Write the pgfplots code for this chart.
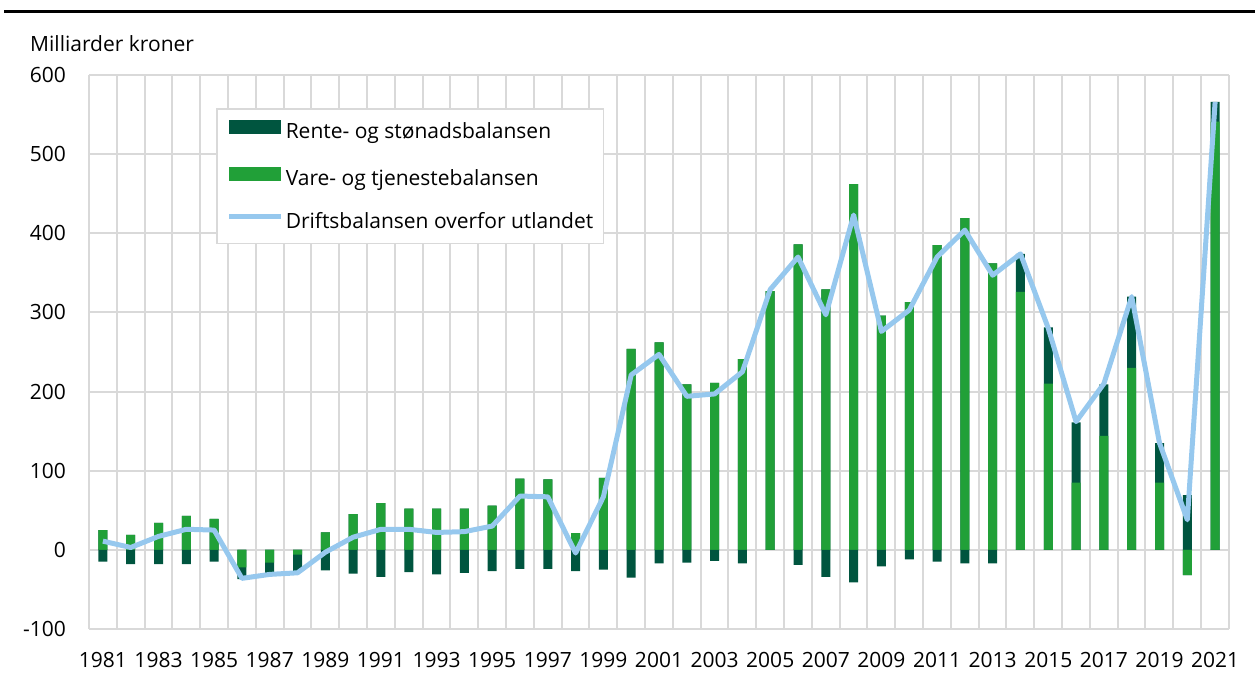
\documentclass[border=0pt]{standalone}
\usepackage{fontspec}
\setmainfont{Open Sans}
\usepackage{pgfplots}
\usepackage{pgfplotstable}
\pgfplotsset{compat=1.18}

\definecolor{rente}{HTML}{00553F}
\definecolor{vare}{HTML}{21A038}
\definecolor{drift}{HTML}{96C8EE}
\definecolor{gridg}{HTML}{D9D9D9}

% g = vare- og tjenestebalansen, d = rente- og stønadsbalansen, total = driftsbalansen
\pgfplotstableread{
year g d total
1981 25 -15 11
1982 19 -18 3
1983 34 -18 17
1984 43 -18 26
1985 39 -15 25
1986 -22 -15 -36
1987 -16 -13 -31
1988 -6 -22 -29
1989 22 -26 -3
1990 45 -30 16
1991 59 -34 26
1992 52 -28 26
1993 52 -31 22
1994 52 -29 23
1995 56 -27 30
1996 90 -24 68
1997 89 -24 67
1998 21 -27 -4
1999 91 -25 67
2000 254 -35 221
2001 262 -17 247
2002 209 -16 194
2003 211 -14 197
2004 241 -17 225
2005 327 0 329
2006 386 -19 370
2007 329 -34 297
2008 462 -41 423
2009 296 -21 276
2010 313 -12 303
2011 385 -15 370
2012 419 -17 404
2013 362 -17 347
2014 326 48 374
2015 210 71 280
2016 85 76 162
2017 144 65 210
2018 230 90 320
2019 85 50 135
2020 -32 69 38
2021 541 25 566
}\balanse

\begin{document}
\begin{tikzpicture}
\useasboundingbox (0pt,0pt) rectangle (1255pt,677pt);
\draw[line width=3.3pt] (4pt,665.3pt) -- (1255pt,665.3pt);
\node[anchor=base west, inner sep=0pt, font=\fontsize{21}{25}\selectfont] at (30pt,625pt) {Milliarder kroner};
\begin{axis}[
  at={(89pt,48pt)}, anchor=south west,
  scale only axis, width=1140pt, height=554pt,
  xmin=1980.5, xmax=2021.5, ymin=-100, ymax=600,
  xtick={1981,1983,...,2021},
  xticklabels={1981,1983,1985,1987,1989,1991,1993,1995,1997,1999,2001,2003,2005,2007,2009,2011,2013,2015,2017,2019,2021},
  minor xtick={1980.5,1981.5,...,2021.5},
  ytick={-100,0,...,600},
  yticklabels={-100,0,100,200,300,400,500,600},
  ymajorgrids, xminorgrids,
  grid style={gridg, line width=2pt},
  minor grid style={gridg, line width=2pt},
  axis line style={draw=none},
  major tick length=0pt, minor tick length=0pt,
  tick label style={font=\fontsize{21}{25}\selectfont, inner sep=0pt},
  xticklabel style={anchor=base, yshift=-38pt},
  yticklabel style={anchor=base east, xshift=-23pt, yshift=-7.5pt},
  legend cell align=left,
  legend style={at={(axis description cs:0.1114,0.9404)}, anchor=north west,
    draw=gridg, line width=1.5pt, fill=white,
    font=\fontsize{21}{25}\selectfont,
    inner xsep=10pt, inner ysep=11pt, row sep=24pt, column sep=2pt,
    nodes={inner sep=0pt, text height=14pt, text depth=4pt}},
  legend image code/.code={\fill[#1] (0pt,0pt) rectangle (52pt,14pt);},
]
\addplot[ybar, bar shift=0pt, bar width=9pt, fill=rente, draw=none]
  table[x=year, y expr={max(\thisrow{g},0)+max(\thisrow{d},0)}] {\balanse};
\addlegendentry{Rente- og stønadsbalansen}
\addplot[ybar, bar shift=0pt, bar width=9pt, fill=vare, draw=none]
  table[x=year, y expr={max(\thisrow{g},0)}] {\balanse};
\addlegendentry{Vare- og tjenestebalansen}
\addplot[ybar, bar shift=0pt, bar width=9pt, fill=rente, draw=none, forget plot]
  table[x=year, y expr={min(\thisrow{g},0)+min(\thisrow{d},0)}] {\balanse};
\addplot[ybar, bar shift=0pt, bar width=9pt, fill=vare, draw=none, forget plot]
  table[x=year, y expr={min(\thisrow{g},0)}] {\balanse};
\addplot[sharp plot, drift, line width=5pt, line join=round, mark=none,
  legend image code/.code={\draw[drift, line width=5pt] (0pt,7pt) -- (52pt,7pt);}]
  table[x=year, y=total] {\balanse};
\addlegendentry{Driftsbalansen overfor utlandet}
\end{axis}
\end{tikzpicture}
\end{document}
